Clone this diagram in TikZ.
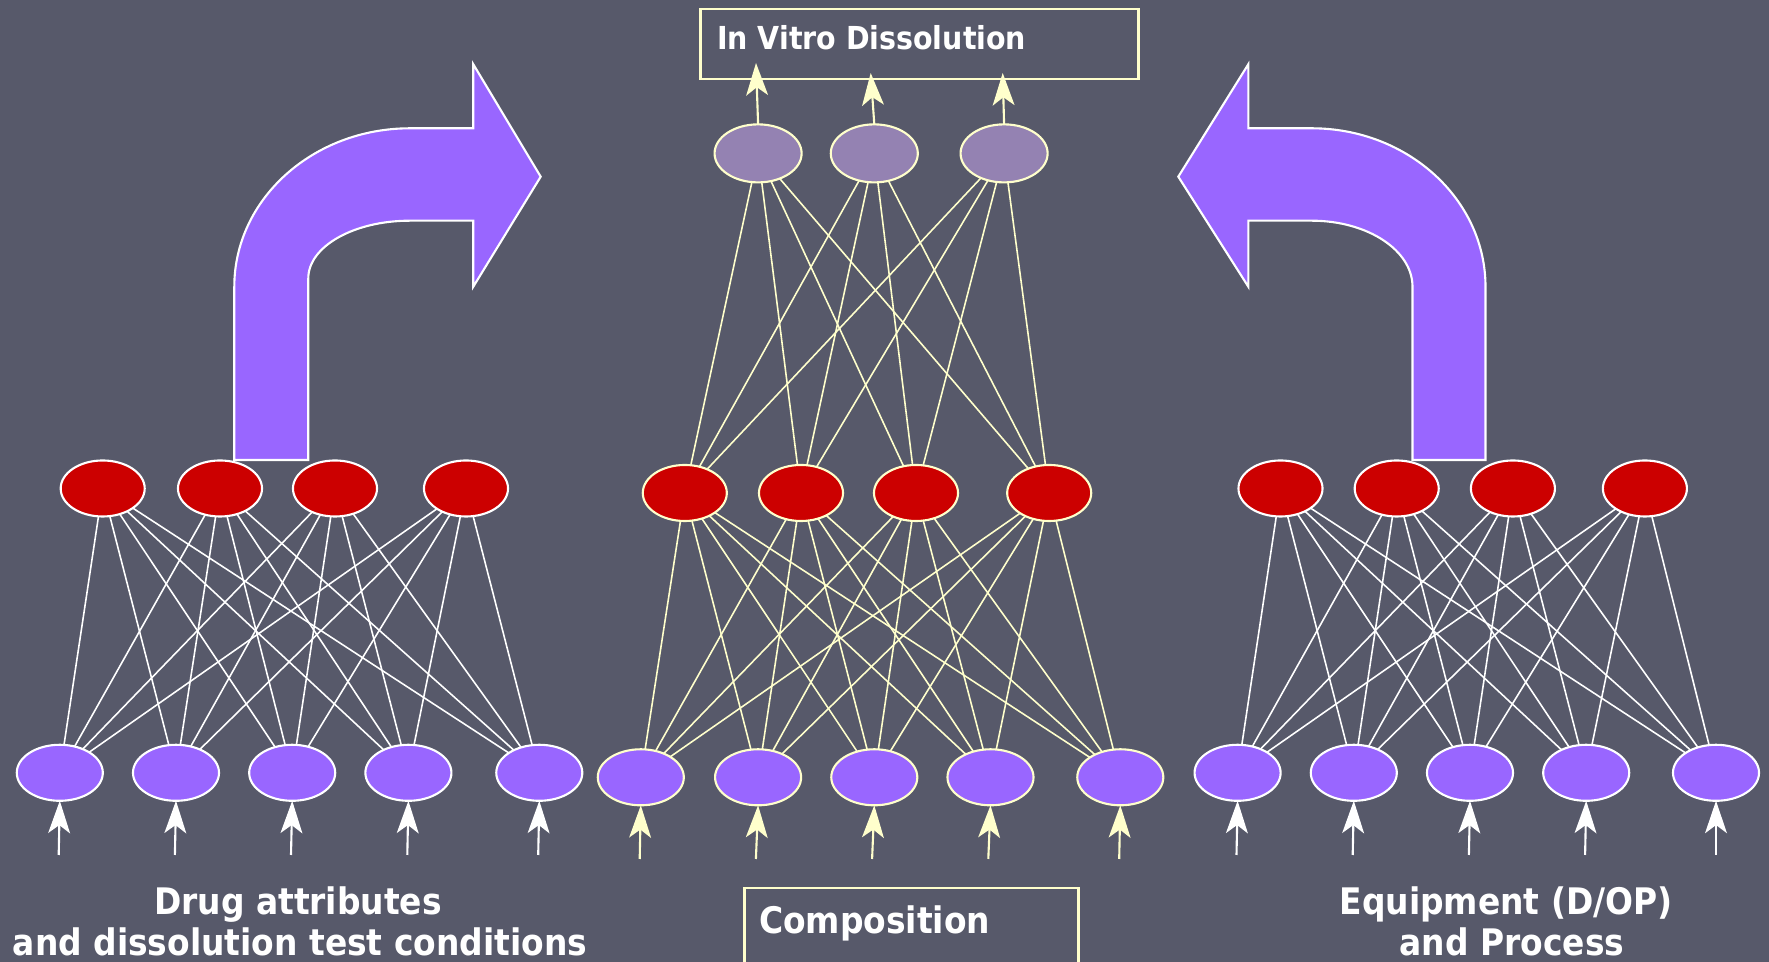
\documentclass[tikz,border=0pt]{standalone}
\usepackage{fontspec}
\setmainfont{DejaVu Sans Condensed}[BoldFont={* Bold}]
\usetikzlibrary{shapes.geometric,arrows.meta}
\definecolor{slate}{RGB}{87,89,106}
\definecolor{violet}{HTML}{9966FF}
\definecolor{hred}{HTML}{CC0000}
\definecolor{outc}{RGB}{148,130,178}
\definecolor{pale}{HTML}{FFFFCC}
\begin{document}
\begin{tikzpicture}[x=0.01cm,y=-0.01cm,
  every node/.style={inner sep=0pt,outer sep=0pt},
  neuron/.style={ellipse,line width=0.6pt},
  inputn/.style={neuron,fill=violet,minimum width=0.86cm,minimum height=0.56cm},
  hiddenn/.style={neuron,fill=hred,minimum width=0.84cm,minimum height=0.56cm},
  outputn/.style={neuron,fill=outc,draw=pale,minimum width=0.87cm,minimum height=0.58cm},
  wlink/.style={draw=white,line width=0.45pt},
  plink/.style={draw=pale,line width=0.45pt},
  feed/.style={line width=0.6pt,-{Stealth[length=9.2pt,width=6.2pt,inset=2.3pt]}},
  bigarrow/.style={fill=violet,draw=white,line width=0.6pt,line join=miter},
  framebox/.style={draw=pale,line width=0.7pt,rectangle},
  lbl/.style={text=white,font=\bfseries\fontsize{10.4}{12}\selectfont},
  lblsmall/.style={text=white,font=\bfseries\fontsize{9}{11}\selectfont}]

\useasboundingbox (0,0) rectangle (1769,962);
\fill[slate] (0,0) rectangle (1769,962);
\clip (0,0) rectangle (1769,962);

% bent arrows
\path[bigarrow] (234.3,460) -- (234.3,286.7)
  .. controls (234.3,199.2) and (313,128.3) .. (410,128.3)
  -- (473.3,128.3) -- (473.3,64.3) -- (540.7,176.7) -- (473.3,286.7)
  -- (473.3,220.7) -- (410,220.7)
  .. controls (353.8,220.7) and (308.3,246.5) .. (308.3,278.3)
  -- (308.3,460) -- cycle;
\path[bigarrow] (1485.5,460) -- (1485.5,286.7)
  .. controls (1485.5,199.2) and (1407.4,128.3) .. (1311.7,128.3)
  -- (1248.3,128.3) -- (1248.3,64.3) -- (1178.3,176.7) -- (1248.3,286.7)
  -- (1248.3,220.7) -- (1311.7,220.7)
  .. controls (1367.3,220.7) and (1412.5,250.2) .. (1412.5,286.7)
  -- (1412.5,460) -- cycle;

% output frame and composition frame
\node[framebox,anchor=north west,minimum width=4.377cm,minimum height=0.70cm] (vitro) at (700.6,9) {};
\node[lblsmall,anchor=base west] (vitrotext) at (717,50) {In Vitro Dissolution};
\node[framebox,anchor=north west,minimum width=3.339cm,minimum height=1.0cm] (comp) at (744.6,888) {};
\node[lbl,anchor=base west] (comptext) at (759,934) {Composition};

% left network
\foreach \x [count=\k] in {102.7,220,335,466}
  \node[hiddenn,draw=white] (lh\k) at (\x,488.5) {};
\foreach \x [count=\k] in {59.8,176,292.2,408.4,539.3}
  \node[inputn,draw=white] (li\k) at (\x,772.8) {};
% centre network
\foreach \x [count=\k] in {758.1,874.3,1004.1}
  \node[outputn] (co\k) at (\x,153.4) {};
\foreach \x [count=\k] in {684.8,801,916,1049.2}
  \node[hiddenn,draw=pale] (ch\k) at (\x,493) {};
\foreach \x [count=\k] in {640.8,758.1,874.3,990.5,1120.3}
  \node[inputn,draw=pale] (ci\k) at (\x,777.3) {};
% right network
\foreach \x [count=\k] in {1280.5,1396.7,1512.9,1644.9}
  \node[hiddenn,draw=white] (rh\k) at (\x,488.5) {};
\foreach \x [count=\k] in {1237.6,1353.8,1470,1586.2,1716}
  \node[inputn,draw=white] (ri\k) at (\x,772.8) {};

% links
\foreach \h in {1,...,4}{
  \foreach \i in {1,...,5}{
    \draw[wlink] (lh\h) -- (li\i);
    \draw[wlink] (rh\h) -- (ri\i);
    \draw[plink] (ch\h) -- (ci\i);
  }
  \foreach \o in {1,2,3}
    \draw[plink] (co\o) -- (ch\h);
}

% outputs to the dissolution frame
\coordinate (v1) at (756,63);
\coordinate (v2) at (870.7,73);
\coordinate (v3) at (1002.7,73);
\foreach \o in {1,2,3}
  \draw[feed,draw=pale,fill=pale] (co\o.north) -- (v\o);

% incoming inputs
\foreach \x [count=\k] in {58.7,174.9,291,407.3,538.2}{
  \coordinate (lb\k) at (\x,855);
  \draw[feed,draw=white,fill=white] (lb\k) -- (li\k.south);
}
\foreach \x [count=\k] in {639.7,755.9,872.1,988.3,1119.2}{
  \coordinate (cb\k) at (\x,859);
  \draw[feed,draw=pale,fill=pale] (cb\k) -- (ci\k.south);
}
\foreach \x [count=\k] in {1236.5,1352.7,1468.9,1585.1,1716}{
  \coordinate (rb\k) at (\x,855);
  \draw[feed,draw=white,fill=white] (rb\k) -- (ri\k.south);
}

% group captions
\node[lbl,anchor=base] (drugA) at (298,915) {Drug attributes};
\node[lbl,anchor=base] (drugB) at (300,955.6) {and dissolution test conditions};
\node[lbl,anchor=base] (equipA) at (1506,915) {Equipment (D/OP)};
\node[lbl,anchor=base] (equipB) at (1512,955.6) {and Process};
\end{tikzpicture}
\end{document}
